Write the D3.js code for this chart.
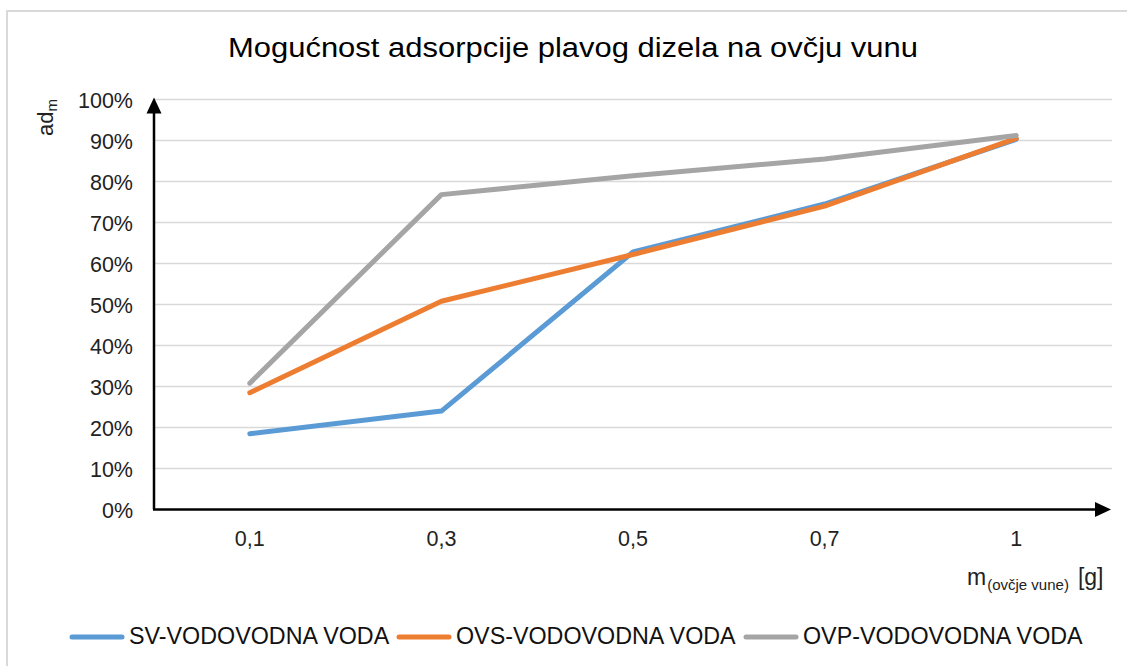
<!DOCTYPE html>
<html><head><meta charset="utf-8">
<script src="https://cdn.jsdelivr.net/npm/d3@7"></script>
<style>body{margin:0;background:#fff;}svg{display:block;font-family:"Liberation Sans",Arial,sans-serif;}</style>
</head><body><svg id="c" width="1127" height="666"></svg>
<script>
const categories = ["0,1","0,3","0,5","0,7","1"];
const seriesNames = ["SV-VODOVODNA VODA","OVS-VODOVODNA VODA","OVP-VODOVODNA VODA"];
const svValues  = [0.185,0.240,0.628,0.745,0.903];
const ovsValues = [0.285,0.508,0.622,0.740,0.905];
const ovpValues = [0.308,0.768,0.814,0.855,0.912];
const yTicks = [0,0.1,0.2,0.3,0.4,0.5,0.6,0.7,0.8,0.9,1.0];
const colors = ["#5B9BD5","#ED7D31","#A5A5A5"];
const title = "Mogućnost adsorpcije plavog dizela na ovčju vunu";

const svg = d3.select("#c");
svg.append("rect").attr("x",7).attr("y",11).attr("width",1140).attr("height",680)
  .attr("fill","#fff").attr("stroke","#d9d9d9").attr("stroke-width",2);

const L=154, R=1112, T=99.5, B=509.5;
const x = d3.scaleBand().domain(categories).range([L,R]);
const y = d3.scaleLinear().domain([0,1]).range([B,T]);

svg.append("text").attr("x",573).attr("y",57).attr("text-anchor","middle")
  .attr("font-size",27).attr("fill","#000").attr("textLength",690).attr("lengthAdjust","spacingAndGlyphs").text(title);

// grid
svg.append("g").selectAll("line").data(yTicks.slice(1)).join("line")
  .attr("x1",L).attr("x2",R).attr("y1",d=>y(d)).attr("y2",d=>y(d))
  .attr("stroke","#d9d9d9").attr("stroke-width",1.5);

// y axis labels
const ya = svg.append("g").attr("transform",`translate(${L-21},0)`)
  .call(d3.axisLeft(y).tickValues(yTicks).tickFormat(d3.format(".0%")).tickSize(0).tickPadding(0));
ya.select(".domain").remove();
ya.selectAll("text").attr("font-size",21.5).attr("fill","#222").attr("font-family","Liberation Sans, Arial, sans-serif").attr("dy","0.35em");

// x axis labels
const xa = svg.append("g").attr("transform",`translate(0,${B+21})`)
  .call(d3.axisBottom(x).tickSize(0).tickPadding(0));
xa.select(".domain").remove();
xa.selectAll("text").attr("font-size",21.5).attr("fill","#222").attr("font-family","Liberation Sans, Arial, sans-serif").attr("dy","0.71em");

// lines
const line = d3.line().x((d,i)=>x(categories[i])+x.bandwidth()/2).y(d=>y(d));
[svValues,ovsValues,ovpValues].forEach((vals,k)=>{
  svg.append("path").datum(vals).attr("d",line).attr("fill","none")
    .attr("stroke",colors[k]).attr("stroke-width",5).attr("stroke-linejoin","round").attr("stroke-linecap","round");
});

// axes with arrows
svg.append("line").attr("x1",L).attr("y1",B).attr("x2",L).attr("y2",T+10)
  .attr("stroke","#000").attr("stroke-width",2.5);
svg.append("path").attr("d",`M${L-7.5},${T+14}L${L},${T-2}L${L+7.5},${T+14}Z`).attr("fill","#000");
svg.append("line").attr("x1",L-1).attr("y1",B).attr("x2",R-10).attr("y2",B)
  .attr("stroke","#000").attr("stroke-width",2.5);
svg.append("path").attr("d",`M${R-17},${B-7.5}L${R-1},${B}L${R-17},${B+7.5}Z`).attr("fill","#000");

// y title
const yt = svg.append("text").attr("transform","translate(53,136) rotate(-90)").attr("font-size",22).attr("fill","#222");
yt.append("tspan").text("ad");
yt.append("tspan").attr("font-size",15).attr("dy",4).text("m");

// x title
const xt = svg.append("text").attr("x",967).attr("y",585).attr("font-size",23).attr("fill","#222");
xt.append("tspan").text("m");
xt.append("tspan").attr("font-size",15).attr("dy",5).attr("dx",1).text("(ovčje vune)");
xt.append("tspan").attr("dy",-5).attr("dx",9).text("[g]");

// legend
const legX = [70,397,744];
seriesNames.forEach((n,k)=>{
  svg.append("line").attr("x1",legX[k]+2).attr("x2",legX[k]+52).attr("y1",637).attr("y2",637)
    .attr("stroke",colors[k]).attr("stroke-width",5).attr("stroke-linecap","round");
  svg.append("text").attr("x",legX[k]+59).attr("y",644).attr("font-size",23.3).attr("fill","#111").text(n);
});
</script></body></html>
